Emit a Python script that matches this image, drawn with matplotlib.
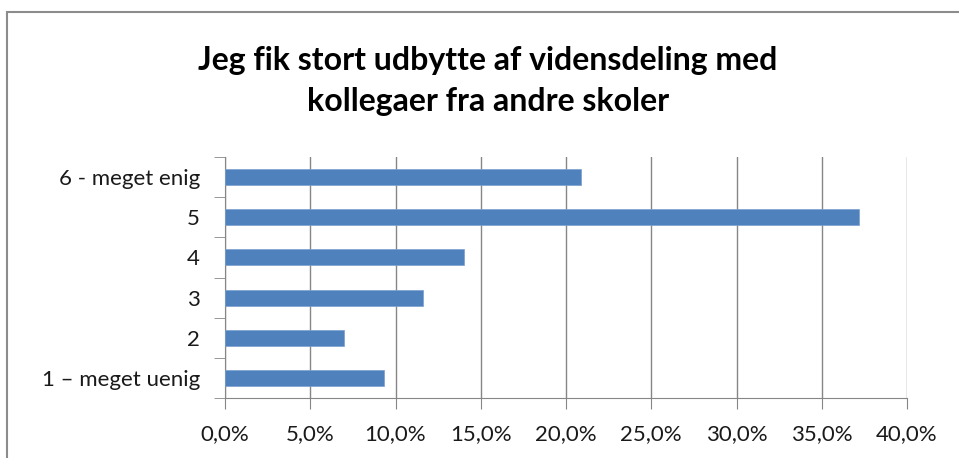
import matplotlib
matplotlib.use("Agg")
import matplotlib.pyplot as plt
from matplotlib.patches import Rectangle
from matplotlib.ticker import FuncFormatter

# Survey answers, bottom to top
categories = ["1 – meget uenig", "2", "3", "4", "5", "6 - meget enig"]
shares = [9.3, 7.0, 11.6, 14.0, 37.2, 20.9]
xticks = [0, 5, 10, 15, 20, 25, 30, 35, 40]

title = "Jeg fik stort udbytte af vidensdeling med\nkollegaer fra andre skoler"

plt.rcParams['font.family'] = ['Lato', 'DejaVu Sans']

fig = plt.figure(figsize=(9.59, 4.58), dpi=100)
ax = fig.add_axes([225 / 959, 1 - 398 / 458, (907 - 225) / 959, (398 - 157) / 458])

# outer chart frame (right/bottom run off the image)
fig.patches.append(Rectangle((7 / 959, -0.1), 1.2, 1 - 12 / 458 + 0.1,
                             transform=fig.transFigure, fill=False,
                             edgecolor="#8c8c8c", linewidth=1.5))

ypos = range(len(categories))
ax.barh(ypos, shares, height=0.4, color="#4F81BD", edgecolor="#7a9fcf", linewidth=0.5, zorder=3)

ax.set_xlim(0, 40)
ax.set_ylim(-0.5, len(categories) - 0.5)
ax.set_xticks(xticks)
ax.xaxis.set_major_formatter(FuncFormatter(lambda v, p: f"{v:.1f}%".replace(".", ",")))
ax.set_yticks(ypos)
ax.set_yticklabels(categories)
ax.set_yticks([i - 0.5 for i in range(len(categories) + 1)], minor=True)

ax.grid(axis="x", color="#868686", linewidth=1, zorder=0)
for s in ["top", "right"]:
    ax.spines[s].set_visible(False)
for s in ["left", "bottom"]:
    ax.spines[s].set_color("#868686")

ax.tick_params(axis="y", which="major", length=0, labelsize=16, pad=18, labelcolor="#1a1a1a")
ax.tick_params(axis="y", which="minor", length=8, color="#868686")
ax.tick_params(axis="x", length=8, color="#868686", labelsize=16, pad=11, labelcolor="#1a1a1a")

fig.text(488 / 959, 1 - 81 / 458, title, ha="center", va="center",
         fontsize=23, fontweight="bold", linespacing=1.5)

fig.savefig("out.png", dpi=100)
